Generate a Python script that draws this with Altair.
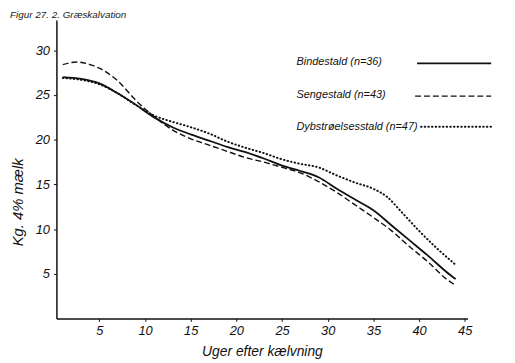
import altair as alt
import pandas as pd

# --- data ---
weeks_b = [1, 3, 5, 7, 9, 11, 13, 15, 17, 19, 21, 23, 25, 27, 29, 31, 33, 35, 37, 39, 41, 43, 44]
vals_b = [27.0, 26.8, 26.3, 25.2, 23.9, 22.5, 21.4, 20.6, 19.9, 19.2, 18.6, 17.9, 17.1, 16.5, 15.8, 14.5, 13.3, 12.1, 10.4, 8.7, 7.0, 5.2, 4.4]

weeks_s = [1, 2.5, 4, 5, 7, 9, 11, 13, 15, 17, 19, 21, 23, 25, 27, 29, 31, 33, 35, 37, 39, 41, 43, 44]
vals_s = [28.4, 28.7, 28.4, 28.0, 26.6, 24.4, 22.6, 21.1, 20.1, 19.4, 18.7, 18.0, 17.5, 16.9, 16.3, 15.3, 14.1, 12.7, 11.3, 9.8, 8.0, 6.3, 4.4, 3.7]

weeks_d = [1, 3, 5, 7, 9, 11, 13, 15, 17, 19, 21, 23, 25, 27, 29, 31, 33, 35, 36.5, 38, 40, 42, 44]
vals_d = [26.9, 26.7, 26.2, 25.2, 23.9, 22.7, 22.0, 21.4, 20.7, 19.8, 19.1, 18.5, 17.8, 17.3, 16.9, 16.0, 15.2, 14.5, 13.6, 12.0, 9.8, 7.8, 6.0]

series_names = ["Bindestald (n=36)", "Sengestald (n=43)", "Dybstrøelsesstald (n=47)"]
x_ticks = [5, 10, 15, 20, 25, 30, 35, 40, 45]
y_ticks = [5, 10, 15, 20, 25, 30]
x_title = "Uger efter kælvning"
y_title = "Kg. 4% mælk"
fig_title = "Figur 27. 2. Græskalvation"

FONT = "Liberation Sans, sans-serif"
W, H = 416, 302

x_scale = alt.Scale(domain=[0.3, 45.3], nice=False, zero=False)
y_scale = alt.Scale(domain=[0, 33.4], nice=False)

x_axis = alt.Axis(values=x_ticks, title=x_title, grid=False, domainColor="#111",
                  domainWidth=1.5, tickColor="#111", tickSize=3, labelPadding=3,
                  labelFont=FONT, labelFontSize=13, labelFontStyle="italic", labelColor="#111",
                  titleFont=FONT, titleFontSize=14, titleFontStyle="italic", titleFontWeight="normal",
                  titleColor="#111", titleY=34, titleBaseline="middle")
y_axis = alt.Axis(values=y_ticks, title=y_title, grid=False, domainColor="#111",
                  domainWidth=1.5, tickColor="#111", tickSize=3, labelPadding=4,
                  labelFont=FONT, labelFontSize=13, labelFontStyle="italic", labelColor="#111",
                  titleFont=FONT, titleFontSize=15, titleFontStyle="italic", titleFontWeight="normal",
                  titleColor="#111", titleX=-39, titleY=184, titleBaseline="middle", titleAngle=270)

def line_layer(weeks, vals, name, width, dash=None, cap="butt"):
    df = pd.DataFrame({"week": weeks, "value": vals, "series": name})
    kw = dict(color="#111", strokeWidth=width, interpolate="monotone", strokeCap=cap)
    if dash:
        kw["strokeDash"] = dash
    return alt.Chart(df).mark_line(**kw).encode(
        x=alt.X("week:Q", scale=x_scale, axis=x_axis),
        y=alt.Y("value:Q", scale=y_scale, axis=y_axis),
    )

solid = line_layer(weeks_b, vals_b, series_names[0], 1.8)
dashed = line_layer(weeks_s, vals_s, series_names[1], 1.4, dash=[6, 3])
dotted = line_layer(weeks_d, vals_d, series_names[2], 2.0, dash=[0.5, 3.2], cap="round")

# legend (manual, as in the figure)
leg_df = pd.DataFrame({"label": series_names, "ypos": [43, 76, 108]})
leg_text = alt.Chart(leg_df).mark_text(align="left", baseline="middle", font=FONT,
                                       fontSize=11, fontStyle="italic", color="#111").encode(
    x=alt.value(243), y=alt.Y("ypos:Q", scale=None), text="label:N")

leg_solid = alt.Chart(pd.DataFrame({"s": [series_names[0]]})).mark_rule(
    color="#111", strokeWidth=1.8).encode(x=alt.value(365), x2=alt.value(440), y=alt.value(44))
leg_dash = alt.Chart(pd.DataFrame({"s": [series_names[1]]})).mark_rule(
    color="#111", strokeWidth=1.4, strokeDash=[6, 3]).encode(x=alt.value(363), x2=alt.value(440), y=alt.value(77))
leg_dot = alt.Chart(pd.DataFrame({"s": [series_names[2]]})).mark_rule(
    color="#111", strokeWidth=2.0, strokeDash=[0.5, 3.2], strokeCap="round").encode(
    x=alt.value(369), x2=alt.value(440), y=alt.value(108))

title_text = alt.Chart(pd.DataFrame({"t": [fig_title]})).mark_text(
    align="left", baseline="top", font=FONT, fontSize=10, fontStyle="italic", color="#222").encode(
    x=alt.value(-47), y=alt.value(-10), text="t:N")

chart = alt.layer(solid, dashed, dotted, leg_text, leg_solid, leg_dash, leg_dot, title_text).properties(
    width=W, height=H,
    autosize=alt.AutoSizeParams(type="none"),
    padding={"left": 49, "top": 10, "right": 40, "bottom": 43},
    background="white",
).configure_view(stroke=None)

chart.save("out.html", embed_options={"renderer": "svg", "actions": False})
